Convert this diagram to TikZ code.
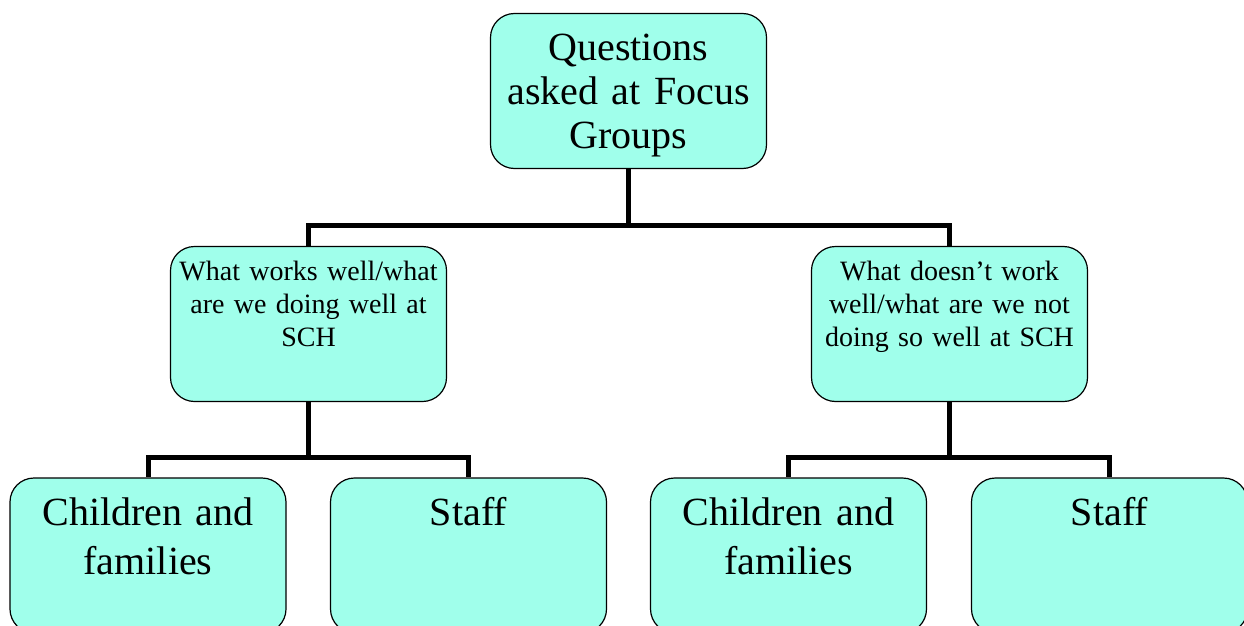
\documentclass[tikz,border=0pt]{standalone}
\usepackage{fontspec}
\setmainfont{Liberation Serif}
\definecolor{boxfill}{RGB}{160,255,235}
\tikzset{
    orgbox/.style={draw, line width=1.2pt, fill=boxfill, rounded corners=24pt,
        minimum width=276pt, minimum height=155pt, inner sep=0pt},
    bigtxt/.style={font=\fontsize{40}{44}\selectfont, align=center,
        text width=272pt, anchor=base, inner sep=0pt},
    lowtxt/.style={bigtxt, font=\fontsize{40}{49}\selectfont},
    midtxt/.style={font=\fontsize{28}{33}\selectfont, align=center,
        text width=272pt, anchor=base, inner sep=0pt},
    link/.style={line width=5pt}
}
\begin{document}
\begin{tikzpicture}[x=1pt, y=-1pt]
    \clip (0,0) rectangle (1244,626);
    \node[orgbox] (top) at (628.5,91) {};
    \node[orgbox] (midL) at (308.5,324) {};
    \node[orgbox] (midR) at (949.5,324) {};
\foreach \n/\x in {lowA/148,lowB/468.5,lowC/788.5,lowD/1109.5}
{
    \node[orgbox] (\n) at (\x,555.5) {};
}

    \node[bigtxt] (topText) at ([yshift=-48pt]top.north) {Questions\\asked at Focus\\Groups};
    \node[midtxt] (midLText) at ([yshift=-34.5pt]midL.north) {What works well/what\\are we doing well at\\SCH};
    \node[midtxt] (midRText) at ([yshift=-34.5pt]midR.north) {What doesn’t work\\well/what are we not\\doing so well at SCH};
    \node[lowtxt] (lowAText) at ([yshift=-48pt]lowA.north) {Children and\\families};
    \node[lowtxt] (lowBText) at ([yshift=-48pt]lowB.north) {Staff};
    \node[lowtxt] (lowCText) at ([yshift=-48pt]lowC.north) {Children and\\families};
    \node[lowtxt] (lowDText) at ([yshift=-48pt]lowD.north) {Staff};

    \coordinate (forkTop) at (top.south |- 0,225);
    \coordinate (forkL) at (midL.south |- 0,457);
    \coordinate (forkR) at (midR.south |- 0,457);
    \draw[link] (top.south) -- (forkTop) -| (midL.north);
    \draw[link] (forkTop) -| (midR.north);
    \draw[link] (midL.south) -- (forkL) -| (lowA.north);
    \draw[link] (forkL) -| (lowB.north);
    \draw[link] (midR.south) -- (forkR) -| (lowC.north);
    \draw[link] (forkR) -| (lowD.north);
\end{tikzpicture}
\end{document}
